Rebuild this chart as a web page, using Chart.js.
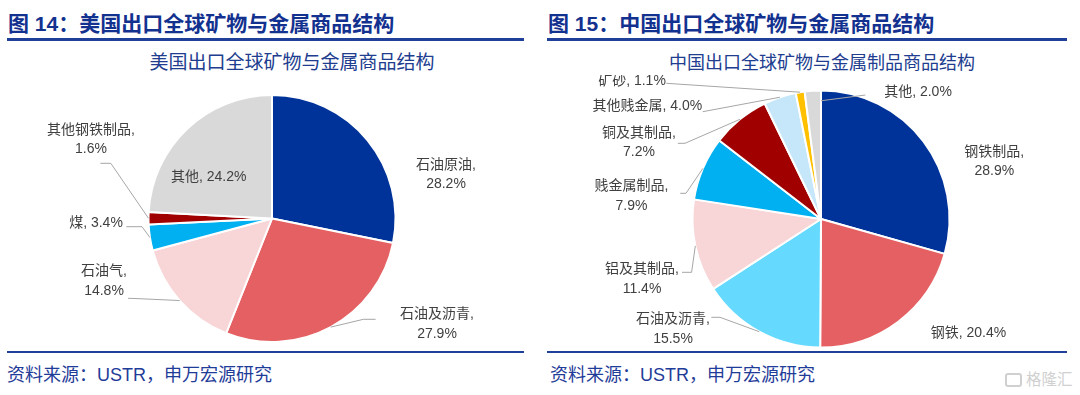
<!DOCTYPE html>
<html><head><meta charset="utf-8">
<script src="https://cdn.jsdelivr.net/npm/chart.js@4.4.1/dist/chart.umd.min.js"></script>
<style>
html,body{margin:0;padding:0;background:#fff;}
#wrap{position:relative;width:1080px;height:395px;overflow:hidden;font-family:"Liberation Sans","Noto Sans CJK SC",sans-serif;}
.fig{position:absolute;top:13px;font-weight:bold;font-size:21px;line-height:22px;color:#13318f;white-space:nowrap;}
.rule{position:absolute;background:#1f3f99;}
.ctitle{position:absolute;top:52px;line-height:22px;color:#213d8f;white-space:nowrap;transform:translateX(-50%);}
.src{position:absolute;top:365px;font-size:18px;line-height:20px;color:#1f3c99;white-space:nowrap;}
.box{position:absolute;top:75px;width:540px;height:275px;}
.wm{position:absolute;left:1005px;top:369px;font-size:15.5px;line-height:18px;color:#d0d0d0;white-space:nowrap;font-family:"Noto Sans CJK SC",sans-serif;}
.wm span{display:inline-block;width:17px;height:14px;border:2px solid #d0d0d0;border-radius:3px;vertical-align:-2px;margin-right:4px;box-sizing:border-box;}
</style></head>
<body><div id="wrap">
<div class="fig" style="left:8px">图 14：美国出口全球矿物与金属商品结构</div>
<div class="fig" style="left:548px">图 15：中国出口全球矿物与金属商品结构</div>
<div class="rule" style="left:7px;top:38px;width:517px;height:3px"></div>
<div class="rule" style="left:547px;top:38px;width:520px;height:3px"></div>
<div class="ctitle" style="left:292px;font-size:19px">美国出口全球矿物与金属商品结构</div>
<div class="ctitle" style="left:822px;font-size:18px">中国出口全球矿物与金属制品商品结构</div>
<div class="box" style="left:0"><canvas id="us"></canvas></div>
<div class="box" style="left:540px"><canvas id="cn"></canvas></div>
<div class="rule" style="left:7px;top:351px;width:517px;height:2px"></div>
<div class="rule" style="left:547px;top:351px;width:520px;height:2px"></div>
<div class="src" style="left:7px">资料来源：USTR，申万宏源研究</div>
<div class="src" style="left:550px">资料来源：USTR，申万宏源研究</div>
<div class="wm"><span></span>格隆汇</div>
</div>
<script>
// ---- data ----
const usCategories = ['石油原油', '石油及沥青', '石油气', '煤', '其他钢铁制品', '其他'];
const usShares = [28.2, 27.9, 14.8, 3.4, 1.6, 24.2];
const cnCategories = ['钢铁制品', '钢铁', '石油及沥青', '铝及其制品', '贱金属制品', '铜及其制品', '其他贱金属', '矿砂', '其他'];
const cnShares = [28.9, 20.4, 15.5, 11.4, 7.9, 7.2, 4.0, 1.1, 2.0];

// ---- styles ----
const usColors = ['#003399', '#e56062', '#f8d5d6', '#00b0f0', '#a00000', '#d9d9d9'];
const cnColors = ['#003399', '#e56062', '#66d9ff', '#f8d5d6', '#00b0f0', '#a00000', '#c6e7f9', '#ffc000', '#d9d9d9'];

// label layout (offsets from pie centre, px)
const usLabelLayout = [
  {split: true, pos: [174, -44]},
  {split: true, pos: [165, 105.5], leader: {start: [103.6, 100.8], elbow: [91.4, 100.8]}},
  {split: true, pos: [-168, 62.5], leader: {start: [-144, 79.8], elbow: [-137, 80]}},
  {split: false, pos: [-176, 5], leader: {start: [-145.7, 8.2], elbow: [-130, 8.2]}},
  {split: true, pos: [-181, -79], leader: {start: [-171.6, -55.2], elbow: [-161.2, -55.2]}},
  {split: false, pos: [-63.3, -41.2]}
];
const cnLabelLayout = [
  {split: true, pos: [173.3, -57.3]},
  {split: false, pos: [147.4, 113.7]},
  {split: true, pos: [-148, 110.3], leader: {start: [-109.7, 98.3], elbow: [-101, 98.3]}},
  {split: true, pos: [-179, 60], leader: {start: [-139, 53.3], elbow: [-129.4, 53.3]}},
  {split: true, pos: [-189.5, -22.8], leader: {start: [-140.8, -25.7], elbow: [-135, -25.7]}},
  {split: true, pos: [-182, -76.2], leader: {start: [-143.2, -75.7], elbow: [-136, -75.7]}},
  {split: false, pos: [-173.7, -113.3], leader: {start: [-118.3, -107.3]}},
  {split: false, pos: [-189, -138.3], leader: {start: [-154.7, -135.7]}},
  {split: false, pos: [97, -127.3], leader: {start: [44.4, -124], at: 'end', rf: 0.92}}
];

const pieLabels = {
  id: 'pieLabels',
  afterDatasetsDraw(chart, args, opts) {
    const ctx = chart.ctx;
    const meta = chart.getDatasetMeta(0);
    const cx = meta.data[0].x, cy = meta.data[0].y;
    const cats = chart.data.labels, vals = chart.data.datasets[0].data;
    ctx.save();
    opts.layout.forEach((it, i) => {
      const arc = meta.data[i];
      if (it.leader) {
        const L = it.leader;
        const a = L.at === 'end' ? arc.endAngle : (arc.startAngle + arc.endAngle) / 2;
        const rr = arc.outerRadius * (L.rf || 1);
        const pts = [[cx + L.start[0], cy + L.start[1]]];
        if (L.elbow) pts.push([cx + L.elbow[0], cy + L.elbow[1]]);
        pts.push([cx + Math.cos(a) * rr, cy + Math.sin(a) * rr]);
        ctx.beginPath();
        ctx.moveTo(pts[0][0], pts[0][1]);
        for (let k = 1; k < pts.length; k++) ctx.lineTo(pts[k][0], pts[k][1]);
        ctx.strokeStyle = '#a6a6a6';
        ctx.lineWidth = 1;
        ctx.stroke();
      }
      const pct = vals[i].toFixed(1) + '%';
      const lines = it.split ? [cats[i] + ',', pct] : [cats[i] + ', ' + pct];
      ctx.font = '14px "Liberation Sans", "Noto Sans CJK SC", sans-serif';
      ctx.fillStyle = '#404040';
      ctx.textAlign = 'center';
      ctx.textBaseline = 'middle';
      const lh = 19.5;
      const y0 = cy + it.pos[1] - (lines.length - 1) * lh / 2;
      lines.forEach((t, k) => ctx.fillText(t, cx + it.pos[0], y0 + k * lh));
    });
    ctx.restore();
  }
};

function makePie(id, cats, vals, colors, layout, padding) {
  return new Chart(document.getElementById(id), {
    type: 'pie',
    data: {labels: cats, datasets: [{data: vals, backgroundColor: colors, borderColor: '#ffffff', borderWidth: 2}]},
    options: {
      responsive: true, maintainAspectRatio: false, animation: false,
      layout: {padding: padding},
      plugins: {legend: {display: false}, tooltip: {enabled: false}, title: {display: false}, pieLabels: {layout: layout}},
      events: []
    },
    plugins: [pieLabels]
  });
}
makePie('us', usCategories, usShares, usColors, usLabelLayout, {top: 19, bottom: 7, left: 72, right: 68});
makePie('cn', cnCategories, cnShares, cnColors, cnLabelLayout, {top: 14.5, bottom: 1.5, left: 81, right: 59});
</script>
</body></html>
